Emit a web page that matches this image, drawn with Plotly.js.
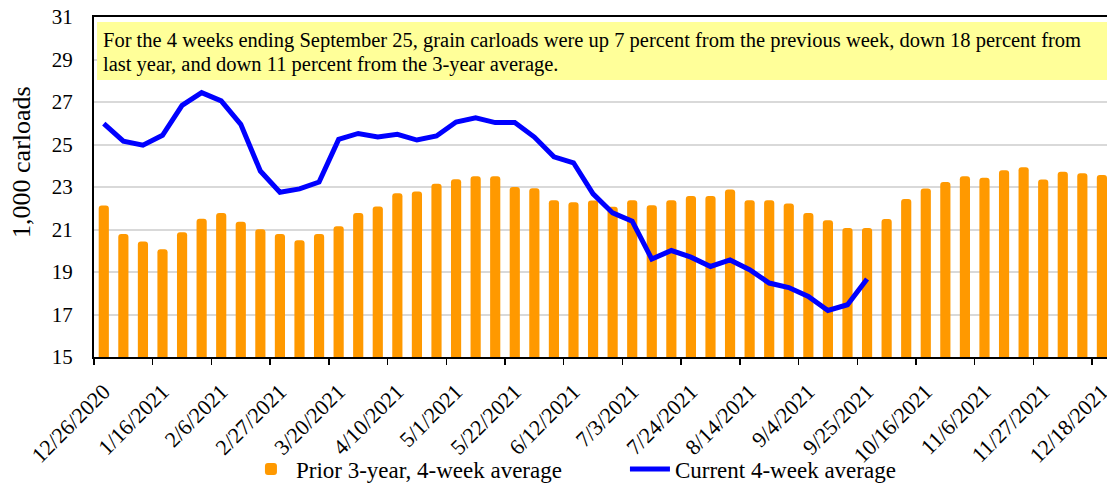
<!DOCTYPE html>
<html>
<head>
<meta charset="utf-8">
<script src="https://cdn.plot.ly/plotly-3.0.1.min.js"></script>
<style>html,body{margin:0;padding:0;background:#fff;}#chart{width:1107px;height:485px;}</style>
</head>
<body>
<div id="chart"></div>
<script>
var weeks = ["12/26/2020","1/2/2021","1/9/2021","1/16/2021","1/23/2021","1/30/2021","2/6/2021","2/13/2021","2/20/2021","2/27/2021","3/6/2021","3/13/2021","3/20/2021","3/27/2021","4/3/2021","4/10/2021","4/17/2021","4/24/2021","5/1/2021","5/8/2021","5/15/2021","5/22/2021","5/29/2021","6/5/2021","6/12/2021","6/19/2021","6/26/2021","7/3/2021","7/10/2021","7/17/2021","7/24/2021","7/31/2021","8/7/2021","8/14/2021","8/21/2021","8/28/2021","9/4/2021","9/11/2021","9/18/2021","9/25/2021","10/2/2021","10/9/2021","10/16/2021","10/23/2021","10/30/2021","11/6/2021","11/13/2021","11/20/2021","11/27/2021","12/4/2021","12/11/2021","12/18/2021"];

var prior3yr = [22.13,20.79,20.43,20.07,20.87,21.51,21.78,21.36,21.01,20.79,20.49,20.79,21.15,21.78,22.08,22.71,22.79,23.15,23.37,23.51,23.51,23.00,22.94,22.38,22.28,22.36,22.07,22.38,22.14,22.38,22.58,22.58,22.88,22.38,22.38,22.22,21.78,21.43,21.07,21.07,21.50,22.44,22.93,23.23,23.51,23.43,23.79,23.93,23.35,23.72,23.65,23.57];

var current4wk = [25.98,25.16,24.97,25.43,26.84,27.44,27.05,25.95,23.75,22.75,22.91,23.23,25.24,25.52,25.35,25.48,25.21,25.40,26.06,26.26,26.03,26.03,25.35,24.42,24.14,22.68,21.78,21.39,19.61,20.01,19.70,19.26,19.57,19.11,18.48,18.27,17.85,17.19,17.46,18.67];

var tickLabels = ["12/26/2020","1/16/2021","2/6/2021","2/27/2021","3/20/2021","4/10/2021","5/1/2021","5/22/2021","6/12/2021","7/3/2021","7/24/2021","8/14/2021","9/4/2021","9/25/2021","10/16/2021","11/6/2021","11/27/2021","12/18/2021"];

var yTicks = [15,17,19,21,23,25,27,29,31];

var noteLine1 = "For the 4 weeks ending September 25, grain carloads were up 7 percent from the previous week, down 18 percent from";
var noteLine2 = "last year, and down 11 percent from the 3-year average.";
var yTitle = "1,000 carloads";

var serif = "'Liberation Serif', 'Times New Roman', Times, serif";

var traces = [
  {
    type: "bar",
    name: "Prior 3-year, 4-week average",
    x: weeks,
    y: prior3yr,
    width: 0.52,
    marker: {color: "#FF9900", cornerradius: 3},
    hoverinfo: "x+y"
  },
  {
    type: "scatter",
    mode: "lines",
    name: "Current 4-week average",
    x: weeks.slice(0, current4wk.length),
    y: current4wk,
    line: {color: "#0000FF", width: 5},
    hoverinfo: "x+y"
  }
];

var layout = {
  width: 1107,
  height: 485,
  margin: {l: 94, r: 0, t: 17, b: 128, autoexpand: false},
  paper_bgcolor: "#ffffff",
  plot_bgcolor: "#ffffff",
  font: {family: serif, color: "#000000", size: 18},
  showlegend: true,
  xaxis: {
    type: "category",
    categoryorder: "array",
    categoryarray: weeks,
    range: [-0.5, 51.26],
    automargin: false,
    tickmode: "array",
    tickvals: tickLabels,
    ticktext: tickLabels,
    tickson: "boundaries",
    ticks: "outside",
    ticklen: 6,
    tickwidth: 1.5,
    tickcolor: "#000",
    tickangle: -45,
    ticklabelstandoff: 11,
    tickfont: {family: serif, size: 22, color: "#000"},
    showgrid: false,
    showline: true,
    linecolor: "#000",
    linewidth: 2,
    mirror: true,
    zeroline: false,
    fixedrange: true
  },
  yaxis: {
    range: [15, 31],
    automargin: false,
    tickmode: "array",
    tickvals: yTicks,
    ticktext: yTicks.map(String),
    ticks: "",
    ticklabelstandoff: 15,
    tickfont: {family: serif, size: 21, color: "#000"},
    showgrid: true,
    gridcolor: "#D9D9D9",
    gridwidth: 2,
    showline: true,
    linecolor: "#000",
    linewidth: 2,
    zeroline: false,
    fixedrange: true
  },
  legend: {
    orientation: "h",
    x: 0.150,
    xanchor: "left",
    y: -0.266,
    yanchor: "top",
    font: {family: serif, size: 23, color: "#000"},
    itemwidth: 40,
    entrywidth: 324,
    entrywidthmode: "pixels",
    traceorder: "normal",
    bgcolor: "rgba(0,0,0,0)"
  },
  shapes: [
    {
      type: "rect",
      xref: "paper", yref: "paper",
      x0: 0.003, x1: 1.0, y0: 0.815, y1: 0.985,
      fillcolor: "#FFFF99",
      line: {width: 0},
      layer: "above"
    }
  ],
  annotations: [
    {
      xref: "paper", yref: "paper",
      x: 0.007, y: 0.930,
      xanchor: "left", yanchor: "middle",
      align: "left",
      showarrow: false,
      text: noteLine1,
      font: {family: serif, size: 20.5, color: "#000"}
    },
    {
      xref: "paper", yref: "paper",
      x: 0.007, y: 0.860,
      xanchor: "left", yanchor: "middle",
      align: "left",
      showarrow: false,
      text: noteLine2,
      font: {family: serif, size: 20.5, color: "#000"}
    },
    {
      xref: "paper", yref: "paper",
      x: -0.071, y: 0.574,
      xanchor: "center", yanchor: "middle",
      textangle: -90,
      showarrow: false,
      text: yTitle,
      font: {family: serif, size: 26, color: "#000"}
    }
  ]
};

Plotly.newPlot("chart", traces, layout, {displayModeBar: false, staticPlot: true});
</script>
</body>
</html>
